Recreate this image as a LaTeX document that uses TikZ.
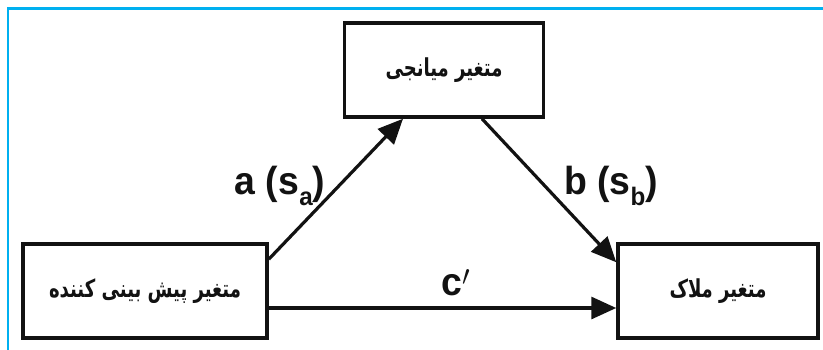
\documentclass[tikz,border=0pt]{standalone}
\usepackage{fontspec}
\setmainfont{Liberation Sans}
\newfontfamily\farsifont[Script=Arabic]{DejaVu Sans}
\TeXXeTstate=1
\usetikzlibrary{arrows.meta}
\definecolor{figFrame}{RGB}{0,176,240}
\definecolor{figInk}{RGB}{18,18,18}
\newcommand{\pathlabel}[1]{\scalebox{1.1}[1.15]{#1}}
\newcommand{\lowsub}[1]{\raisebox{-9pt}{\fontsize{22}{22}\selectfont #1}}
\newcommand{\farsitext}[1]{\scalebox{0.95}[1.3]{\beginR #1\endR}}

\begin{document}
\begin{tikzpicture}[
  x=1pt,y=-1pt,
  >={Triangle[length=25pt,width=22pt]},
  frame/.style={draw=figFrame,line width=2.5pt},
  box/.style={draw=figInk,line width=3.5pt,fill=white,minimum height=94pt,inner sep=0pt,text=figInk,
    font=\farsifont\bfseries\fontsize{19}{23}\selectfont},
  arrow/.style={->,line width=3.2pt,draw=figInk},
  coef/.style={font=\bfseries\fontsize{34}{40}\selectfont,text=figInk,inner sep=0pt}
]
\useasboundingbox (0,0) rectangle (823,349);
\draw[frame] (8,352) -- (8,8.5) -- (826,8.5);

\node[box,minimum width=199pt] (mediator) at (444,70) {\farsitext{متغیر میانجی}};
\node[box,minimum width=244pt] (predictor) at (145,291) {\farsitext{متغیر پیش بینی کننده}};
\node[box,minimum width=200pt] (criterion) at (718,291) {\farsitext{متغیر ملاک}};

\draw[arrow] ([yshift=-17pt]predictor.north east) -- ([xshift=-41pt]mediator.south);
\draw[arrow] ([xshift=38pt]mediator.south) -- ([yshift=-20pt]criterion.north west);
\draw[arrow] ([yshift=-17pt]predictor.east) -- ([yshift=-17pt]criterion.west);

\node[coef] (alabel) at (280,186) {\pathlabel{a (s\lowsub{a})}};
\node[coef] (blabel) at (611,186) {\pathlabel{b (s\lowsub{b})}};
\node[coef] (clabel) at (456,283) {\pathlabel{c$^{\prime}$}};

\end{tikzpicture}
\end{document}
